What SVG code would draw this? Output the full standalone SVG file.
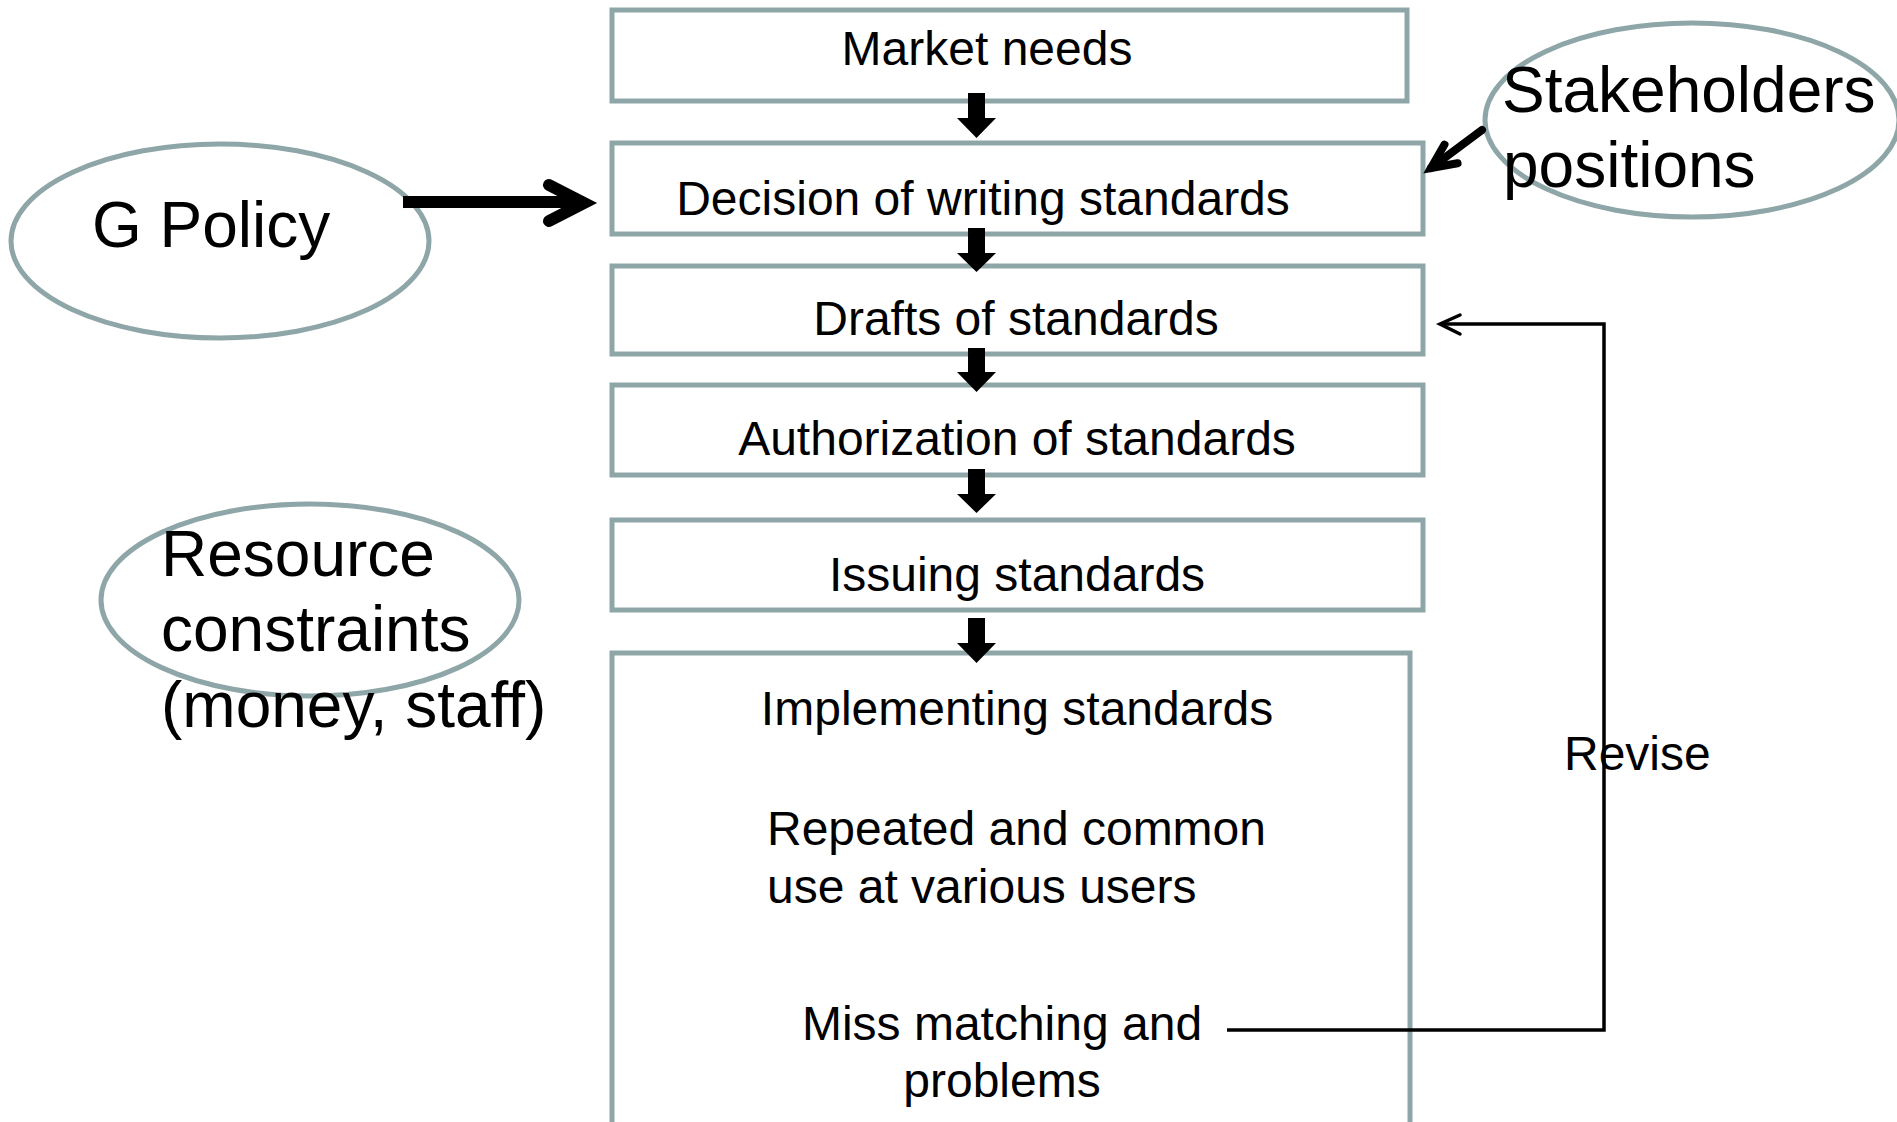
<svg xmlns="http://www.w3.org/2000/svg" width="1897" height="1122" viewBox="0 0 1897 1122">
<defs>
<style>
.box{fill:#ffffff;stroke:#8fa6a8;stroke-width:5}
.ell{fill:#ffffff;stroke:#8fa6a8;stroke-width:5}
.t{font-family:"Liberation Sans",Arial,sans-serif;font-size:48px;fill:#000000}
.tl{font-family:"Liberation Sans",Arial,sans-serif;font-size:64px;fill:#000000}
.blk{fill:#000000}
.thick{fill:none;stroke:#000000;stroke-linecap:round;stroke-linejoin:miter}
.thin{fill:none;stroke:#000000;stroke-width:3.5}
</style>
</defs>
<rect width="1897" height="1122" fill="#ffffff"/>
<g id="g-policy">
<ellipse class="ell" cx="220" cy="241" rx="209" ry="97"/>
<text class="tl" x="92" y="247">G Policy</text>
</g>
<g id="stakeholders">
<ellipse class="ell" cx="1692" cy="120" rx="207" ry="97"/>
<text class="tl" x="1502" y="112">Stakeholders</text>
<text class="tl" x="1503" y="187">positions</text>
</g>
<g id="resource">
<ellipse class="ell" cx="310" cy="600" rx="209" ry="96"/>
<text class="tl" x="161" y="576">Resource</text>
<text class="tl" x="161" y="651">constraints</text>
<text class="tl" x="161" y="727">(money, staff)</text>
</g>
<g id="market-needs">
<rect class="box" x="612" y="10" width="795" height="91"/>
<text class="t" x="987" y="65" text-anchor="middle">Market needs</text>
</g>
<g id="decision">
<rect class="box" x="612" y="143" width="811" height="91"/>
<text class="t" x="983" y="215" text-anchor="middle">Decision of writing standards</text>
</g>
<g id="drafts">
<rect class="box" x="612" y="266" width="811" height="88"/>
<text class="t" x="1016" y="335" text-anchor="middle">Drafts of standards</text>
</g>
<g id="authorization">
<rect class="box" x="612" y="385" width="811" height="90"/>
<text class="t" x="1017" y="455" text-anchor="middle">Authorization of standards</text>
</g>
<g id="issuing">
<rect class="box" x="612" y="520" width="811" height="90"/>
<text class="t" x="1017" y="591" text-anchor="middle">Issuing standards</text>
</g>
<g id="implementing">
<rect class="box" x="612" y="653" width="798" height="500"/>
<text class="t" x="1017" y="725" text-anchor="middle">Implementing standards</text>
<text class="t" x="767" y="845">Repeated and common</text>
<text class="t" x="767" y="903">use at various users</text>
<text class="t" x="1002" y="1040" text-anchor="middle">Miss matching and</text>
<text class="t" x="1002" y="1097" text-anchor="middle">problems</text>
</g>
<g id="connectors">
<polygon class="blk" points="968,93 985,93 985,118 996,118 976.5,138 957,118 968,118"/>
<polygon class="blk" points="968,228 985,228 985,253 996,253 976.5,272 957,253 968,253"/>
<polygon class="blk" points="968,348 985,348 985,372 996,372 976.5,392 957,372 968,372"/>
<polygon class="blk" points="968,469 985,469 985,494 996,494 976.5,513 957,494 968,494"/>
<polygon class="blk" points="968,618 985,618 985,643 996,643 976.5,663 957,643 968,643"/>
<line x1="403" y1="202" x2="584" y2="202" stroke="#000000" stroke-width="12"/>
<polyline class="thick" stroke-width="12" points="549,185 584,203 549,221"/>
<line x1="1482" y1="130" x2="1431" y2="168" stroke="#000000" stroke-width="8" stroke-linecap="round"/>
<polyline class="thick" stroke-width="8" points="1444.5,144.6 1431,168 1457.6,163.3"/>
<polyline class="thin" points="1227,1030 1604,1030 1604,324 1440,324"/>
<polyline class="thick" stroke-width="3.5" points="1460,315 1440,324 1460,334"/>
<text class="t" x="1564" y="770">Revise</text>
</g>
</svg>
